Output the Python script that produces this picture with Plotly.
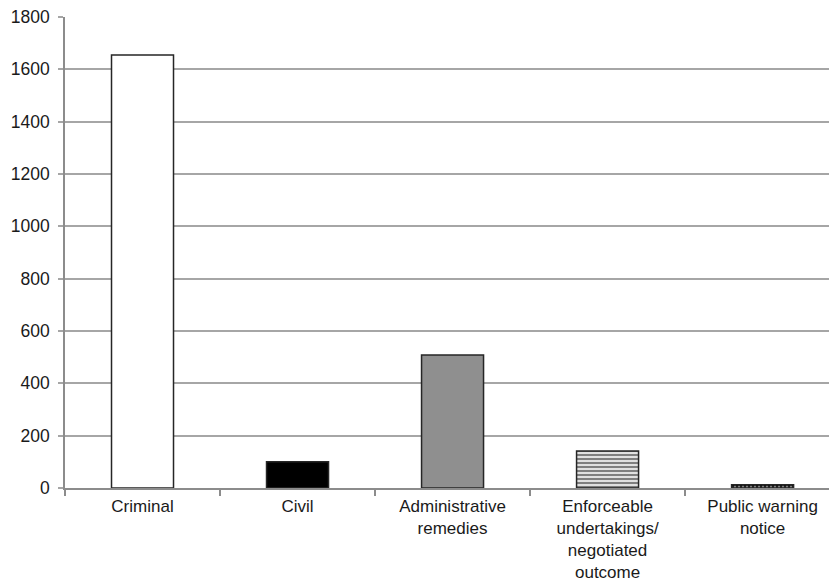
import plotly.graph_objects as go

categories = ["Criminal", "Civil", "Administrative<br>remedies",
              "Enforceable<br>undertakings/<br>negotiated<br>outcome",
              "Public warning<br>notice"]
values = [1655, 100, 508, 141, 12]
y_ticks = [0, 200, 400, 600, 800, 1000, 1200, 1400, 1600, 1800]

fills = ["white", "black", "#8f8f8f", "white", "black"]
pattern_shapes = ["", "", "", "-", "."]
pattern_fg = ["black", "black", "black", "black", "white"]
pattern_size = [8, 8, 8, 4, 4]
pattern_sol = [0.3, 0.3, 0.3, 0.62, 0.4]

fig = go.Figure()
for i, (cat, val) in enumerate(zip(categories, values)):
    pat = dict(shape=pattern_shapes[i], fgcolor=pattern_fg[i], bgcolor=fills[i],
               size=pattern_size[i], solidity=pattern_sol[i], fillmode="overlay") \
        if pattern_shapes[i] else dict(shape="")
    fig.add_trace(go.Bar(
        x=[i], y=[val], width=0.4,
        marker=dict(color=fills[i], line=dict(color="#262626", width=1.5), pattern=pat),
    ))

# page body has an 8px default margin, so the figure is sized 8px smaller
fig.update_layout(
    width=829, height=575,
    margin=dict(l=57, r=0, t=9, b=95),
    plot_bgcolor="white", paper_bgcolor="white",
    font=dict(family="Liberation Sans, Arial, sans-serif", size=17.5, color="#1a1a1a"),
    showlegend=False,
    barmode="overlay",
)
fig.update_xaxes(
    range=[-0.5, 4.48], automargin=False,
    tickmode="array", tickvals=list(range(len(categories))), ticktext=categories,
    showline=True, linecolor="#8c8c8c", linewidth=1.5,
    ticks="", showgrid=False, zeroline=False,
    tickfont=dict(size=17), ticklabelstandoff=2, ticklabeloverflow="allow",
    minor=dict(tickvals=[-0.5, 0.5, 1.5, 2.5, 3.5, 4.5], ticks="outside",
               ticklen=6, tickcolor="#8c8c8c", tickwidth=1.5, showgrid=False),
)
fig.update_yaxes(
    range=[0, 1800], tickvals=y_ticks, automargin=False,
    showline=True, linecolor="#8c8c8c", linewidth=1.5,
    showgrid=True, gridcolor="#a6a6a6", gridwidth=1.5,
    ticks="outside", ticklen=5, tickcolor="#a6a6a6", tickwidth=1.5,
    zeroline=False, tickfont=dict(size=17.5), ticklabelstandoff=5,
    ticklabeloverflow="allow",
)

fig.write_html("out.html")
